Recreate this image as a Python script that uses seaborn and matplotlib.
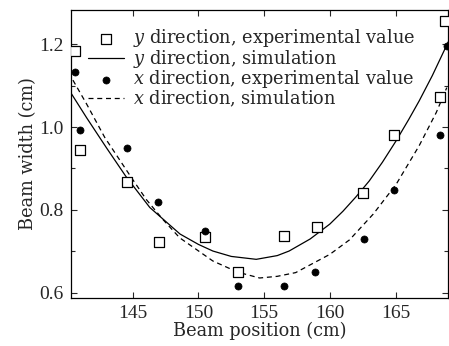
import matplotlib
matplotlib.use("Agg")
import matplotlib.pyplot as plt
import seaborn as sns
import pandas as pd
from matplotlib.ticker import MultipleLocator

# y direction, experimental
yexp_pos = [140.6, 141.0, 144.6, 147.0, 150.5, 153.0, 156.5, 159.0, 162.5, 164.9, 168.4, 168.8]
yexp_w = [1.183, 0.945, 0.868, 0.723, 0.735, 0.651, 0.737, 0.759, 0.841, 0.981, 1.072, 1.255]

# x direction, experimental
xexp_pos = [140.6, 141.0, 144.6, 146.9, 150.5, 153.0, 156.5, 158.9, 162.6, 164.9, 168.4, 168.9]
xexp_w = [1.132, 0.993, 0.950, 0.820, 0.750, 0.617, 0.617, 0.650, 0.730, 0.848, 0.980, 1.195]

# y direction, simulation
ysim_pos = [140.3, 141.5, 143.0, 144.5, 146.3, 148.6, 150.0, 151.1, 152.5, 154.4, 156.0,
            156.9, 158.5, 160.0, 161.0, 162.0, 163.0, 164.0, 165.05, 166.0, 166.8,
            167.8, 168.86, 169.0]
ysim_w = [1.082, 1.022, 0.950, 0.880, 0.806, 0.742, 0.717, 0.701, 0.688, 0.681, 0.690,
          0.701, 0.730, 0.766, 0.797, 0.832, 0.870, 0.915, 0.967, 1.018, 1.063,
          1.124, 1.195, 1.205]

# x direction, simulation
xsim_pos = [140.45, 141.5, 142.87, 144.9, 146.04, 147.3, 148.57, 151.1, 153.0, 154.66,
            156.0, 157.4, 160.0, 161.5, 163.3, 165.05, 166.8, 168.1, 168.9]
xsim_w = [1.113, 1.055, 0.975, 0.878, 0.825, 0.777, 0.733, 0.677, 0.650, 0.636,
          0.640, 0.649, 0.693, 0.728, 0.790, 0.862, 0.955, 1.035, 1.095]

sns.set_style("ticks")
plt.rcParams["font.family"] = ["DejaVu Serif"]
plt.rcParams["mathtext.fontset"] = "dejavuserif"

TXT = 12.8
fig = plt.figure(figsize=(4.49, 3.46), dpi=100)
ax = fig.add_axes([0.158, 0.139, 0.84, 0.832])

df_ye = pd.DataFrame({"pos": yexp_pos, "w": yexp_w})
df_xe = pd.DataFrame({"pos": xexp_pos, "w": xexp_w})
df_ys = pd.DataFrame({"pos": ysim_pos, "w": ysim_w})
df_xs = pd.DataFrame({"pos": xsim_pos, "w": xsim_w})

sns.scatterplot(data=df_ye, x="pos", y="w", ax=ax, marker="s", s=42,
                facecolor="white", edgecolor="black", linewidth=0.9,
                label=r"$y$ direction, experimental value", zorder=3)
sns.lineplot(data=df_ys, x="pos", y="w", ax=ax, color="black", linewidth=0.9,
             label=r"$y$ direction, simulation", zorder=2)
sns.scatterplot(data=df_xe, x="pos", y="w", ax=ax, marker="o", s=26,
                color="black", edgecolor="black", linewidth=0.5,
                label=r"$x$ direction, experimental value", zorder=3)
sns.lineplot(data=df_xs, x="pos", y="w", ax=ax, color="black", linewidth=0.9,
             linestyle=(0, (4, 3)), label=r"$x$ direction, simulation", zorder=2)

ax.set_xlim(140.3, 169.0)
ax.set_ylim(0.588, 1.282)
ax.set_xticks([145, 150, 155, 160, 165])
ax.yaxis.set_minor_locator(MultipleLocator(0.1))
ax.set_yticks([0.6, 0.8, 1.0, 1.2])
ax.set_yticklabels(["0.6", "0.8", "1.0", "1.2"])
ax.tick_params(which="both", direction="in", top=True, right=True, labelsize=14,
               width=0.8, pad=5)
for lab in ax.get_xticklabels() + ax.get_yticklabels():
    lab.set_fontfamily("Liberation Serif")
ax.tick_params(which="major", length=4)
ax.tick_params(which="minor", length=3)
for sp in ax.spines.values():
    sp.set_visible(True)
    sp.set_linewidth(0.9)
    sp.set_color("black")

ax.set_xlabel("Beam position (cm)", fontsize=TXT, labelpad=0)
ax.set_ylabel("Beam width (cm)", fontsize=TXT, labelpad=2)

leg = ax.legend(loc="upper left", bbox_to_anchor=(0.045, 0.94), frameon=False,
                fontsize=TXT, handlelength=2.05, handletextpad=0.5,
                labelspacing=-0.08, borderaxespad=0.0, borderpad=0.0)

fig.savefig("out.png", dpi=100)
